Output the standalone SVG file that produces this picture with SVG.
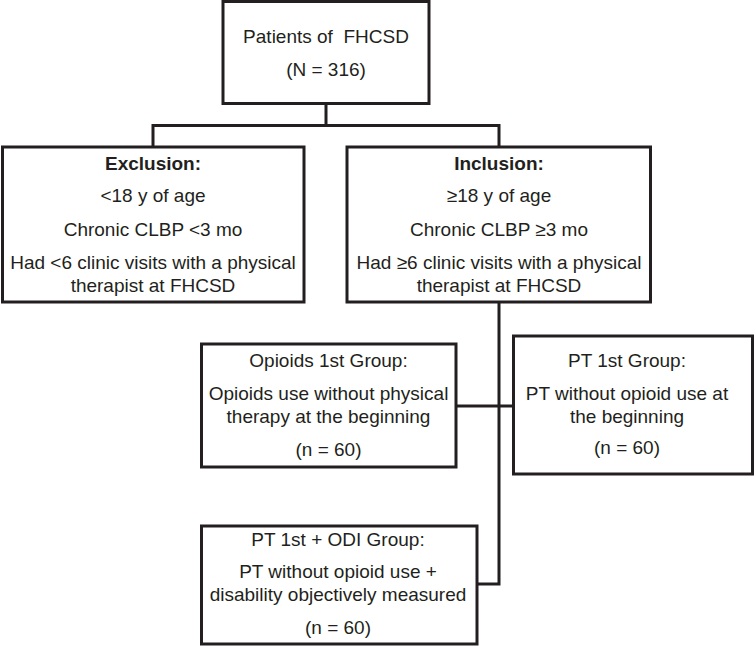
<svg xmlns="http://www.w3.org/2000/svg" width="755" height="646" viewBox="0 0 755 646">
<style>
.box{fill:#fff;stroke:#231f20;stroke-width:3}
.ln{fill:none;stroke:#231f20;stroke-width:3}
text{font-family:"Liberation Sans",Arial,sans-serif;font-size:19px;fill:#231f20;text-anchor:middle}
.b{font-weight:bold}
</style>
<rect width="755" height="646" fill="#fff"/>
<g id="connectors">
<path class="ln" d="M326 103 V125.5 M153 125.5 H499 M153 124 V147 M499 124 V147"/>
<path class="ln" d="M499 302 V584 H477"/>
<path class="ln" d="M456 406 H513"/>
</g>
<g id="patients">
<rect class="box" x="223" y="1.5" width="206" height="102"/>
<text x="326" y="43" xml:space="preserve">Patients of  FHCSD</text>
<text x="326" y="76">(N = 316)</text>
</g>
<g id="exclusion">
<rect class="box" x="2.5" y="147" width="301.5" height="155"/>
<text class="b" x="153" y="170">Exclusion:</text>
<text x="153" y="202">&lt;18 y of age</text>
<text x="153" y="236">Chronic CLBP &lt;3 mo</text>
<text x="153" y="269">Had &lt;6 clinic visits with a physical</text>
<text x="153" y="292">therapist at FHCSD</text>
</g>
<g id="inclusion">
<rect class="box" x="347" y="147" width="303.5" height="155"/>
<text class="b" x="499" y="170">Inclusion:</text>
<text x="499" y="202">≥18 y of age</text>
<text x="499" y="236">Chronic CLBP ≥3 mo</text>
<text x="499" y="269">Had ≥6 clinic visits with a physical</text>
<text x="499" y="292">therapist at FHCSD</text>
</g>
<g id="opioids1st">
<rect class="box" x="201.5" y="344" width="254.5" height="123"/>
<text x="328.5" y="367">Opioids 1st Group:</text>
<text x="328.5" y="400">Opioids use without physical</text>
<text x="328.5" y="423">therapy at the beginning</text>
<text x="328.5" y="456">(n = 60)</text>
</g>
<g id="pt1st">
<rect class="box" x="513.5" y="336" width="239" height="138"/>
<text x="627" y="367">PT 1st Group:</text>
<text x="627" y="400">PT without opioid use at</text>
<text x="627" y="423">the beginning</text>
<text x="627" y="454">(n = 60)</text>
</g>
<g id="pt1stodi">
<rect class="box" x="201.5" y="526" width="275.5" height="118"/>
<text x="338" y="546">PT 1st + ODI Group:</text>
<text x="338" y="578">PT without opioid use +</text>
<text x="338" y="601">disability objectively measured</text>
<text x="338" y="634">(n = 60)</text>
</g>
</svg>
